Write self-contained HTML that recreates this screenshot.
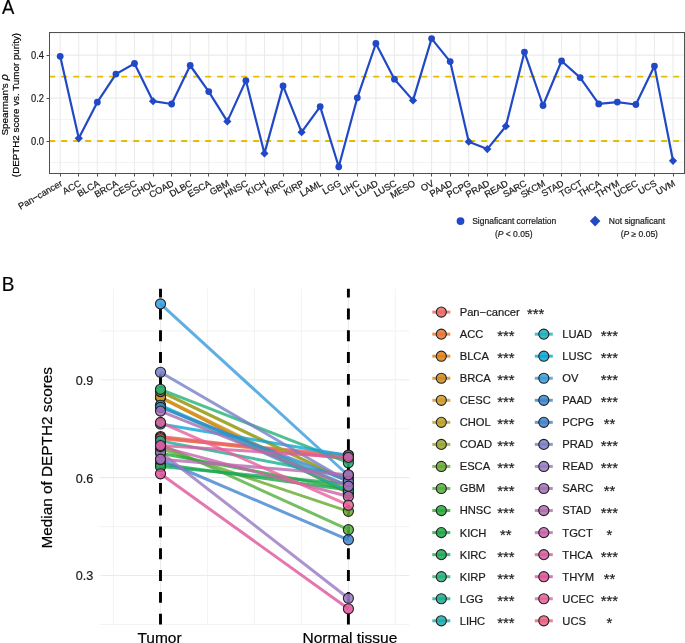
<!DOCTYPE html>
<html><head><meta charset="utf-8"><style>
html,body{margin:0;padding:0;background:#fff;overflow:hidden;}
svg{display:block;font-family:"Liberation Sans", sans-serif;will-change:transform;}
text{stroke:currentColor;stroke-width:0.2px;paint-order:stroke;}
</style></head><body>
<svg width="685" height="643" viewBox="0 0 685 643">
<rect x="0" y="0" width="685" height="643" fill="#fff"/>
<text transform="translate(1.9,13.8) scale(0.94,1)" font-size="19.6" fill="#000" color="#000">A</text>
<line x1="49.5" x2="684.5" y1="33.70" y2="33.70" stroke="#EBEBEB" stroke-width="0.6"/>
<line x1="49.5" x2="684.5" y1="76.62" y2="76.62" stroke="#EBEBEB" stroke-width="0.6"/>
<line x1="49.5" x2="684.5" y1="119.54" y2="119.54" stroke="#EBEBEB" stroke-width="0.6"/>
<line x1="49.5" x2="684.5" y1="162.46" y2="162.46" stroke="#EBEBEB" stroke-width="0.6"/>
<line x1="49.5" x2="684.5" y1="55.16" y2="55.16" stroke="#EBEBEB" stroke-width="1.1"/>
<line x1="49.5" x2="684.5" y1="98.08" y2="98.08" stroke="#EBEBEB" stroke-width="1.1"/>
<line x1="49.5" x2="684.5" y1="141.00" y2="141.00" stroke="#EBEBEB" stroke-width="1.1"/>
<line x1="60.20" x2="60.20" y1="32.5" y2="173.5" stroke="#EBEBEB" stroke-width="1.1"/>
<line x1="78.77" x2="78.77" y1="32.5" y2="173.5" stroke="#EBEBEB" stroke-width="1.1"/>
<line x1="97.34" x2="97.34" y1="32.5" y2="173.5" stroke="#EBEBEB" stroke-width="1.1"/>
<line x1="115.91" x2="115.91" y1="32.5" y2="173.5" stroke="#EBEBEB" stroke-width="1.1"/>
<line x1="134.48" x2="134.48" y1="32.5" y2="173.5" stroke="#EBEBEB" stroke-width="1.1"/>
<line x1="153.05" x2="153.05" y1="32.5" y2="173.5" stroke="#EBEBEB" stroke-width="1.1"/>
<line x1="171.62" x2="171.62" y1="32.5" y2="173.5" stroke="#EBEBEB" stroke-width="1.1"/>
<line x1="190.19" x2="190.19" y1="32.5" y2="173.5" stroke="#EBEBEB" stroke-width="1.1"/>
<line x1="208.76" x2="208.76" y1="32.5" y2="173.5" stroke="#EBEBEB" stroke-width="1.1"/>
<line x1="227.33" x2="227.33" y1="32.5" y2="173.5" stroke="#EBEBEB" stroke-width="1.1"/>
<line x1="245.90" x2="245.90" y1="32.5" y2="173.5" stroke="#EBEBEB" stroke-width="1.1"/>
<line x1="264.47" x2="264.47" y1="32.5" y2="173.5" stroke="#EBEBEB" stroke-width="1.1"/>
<line x1="283.04" x2="283.04" y1="32.5" y2="173.5" stroke="#EBEBEB" stroke-width="1.1"/>
<line x1="301.61" x2="301.61" y1="32.5" y2="173.5" stroke="#EBEBEB" stroke-width="1.1"/>
<line x1="320.18" x2="320.18" y1="32.5" y2="173.5" stroke="#EBEBEB" stroke-width="1.1"/>
<line x1="338.75" x2="338.75" y1="32.5" y2="173.5" stroke="#EBEBEB" stroke-width="1.1"/>
<line x1="357.32" x2="357.32" y1="32.5" y2="173.5" stroke="#EBEBEB" stroke-width="1.1"/>
<line x1="375.89" x2="375.89" y1="32.5" y2="173.5" stroke="#EBEBEB" stroke-width="1.1"/>
<line x1="394.46" x2="394.46" y1="32.5" y2="173.5" stroke="#EBEBEB" stroke-width="1.1"/>
<line x1="413.03" x2="413.03" y1="32.5" y2="173.5" stroke="#EBEBEB" stroke-width="1.1"/>
<line x1="431.60" x2="431.60" y1="32.5" y2="173.5" stroke="#EBEBEB" stroke-width="1.1"/>
<line x1="450.17" x2="450.17" y1="32.5" y2="173.5" stroke="#EBEBEB" stroke-width="1.1"/>
<line x1="468.74" x2="468.74" y1="32.5" y2="173.5" stroke="#EBEBEB" stroke-width="1.1"/>
<line x1="487.31" x2="487.31" y1="32.5" y2="173.5" stroke="#EBEBEB" stroke-width="1.1"/>
<line x1="505.88" x2="505.88" y1="32.5" y2="173.5" stroke="#EBEBEB" stroke-width="1.1"/>
<line x1="524.45" x2="524.45" y1="32.5" y2="173.5" stroke="#EBEBEB" stroke-width="1.1"/>
<line x1="543.02" x2="543.02" y1="32.5" y2="173.5" stroke="#EBEBEB" stroke-width="1.1"/>
<line x1="561.59" x2="561.59" y1="32.5" y2="173.5" stroke="#EBEBEB" stroke-width="1.1"/>
<line x1="580.16" x2="580.16" y1="32.5" y2="173.5" stroke="#EBEBEB" stroke-width="1.1"/>
<line x1="598.73" x2="598.73" y1="32.5" y2="173.5" stroke="#EBEBEB" stroke-width="1.1"/>
<line x1="617.30" x2="617.30" y1="32.5" y2="173.5" stroke="#EBEBEB" stroke-width="1.1"/>
<line x1="635.87" x2="635.87" y1="32.5" y2="173.5" stroke="#EBEBEB" stroke-width="1.1"/>
<line x1="654.44" x2="654.44" y1="32.5" y2="173.5" stroke="#EBEBEB" stroke-width="1.1"/>
<line x1="673.01" x2="673.01" y1="32.5" y2="173.5" stroke="#EBEBEB" stroke-width="1.1"/>
<line x1="49.2" x2="684.5" y1="76.62" y2="76.62" stroke="#E7BC00" stroke-width="1.8" stroke-dasharray="6 6"/>
<line x1="49.2" x2="684.5" y1="141.00" y2="141.00" stroke="#E7BC00" stroke-width="1.8" stroke-dasharray="6 6"/>
<polyline points="60.20,56.30 78.77,138.30 97.34,102.20 115.91,74.10 134.48,63.50 153.05,101.20 171.62,104.00 190.19,65.50 208.76,91.60 227.33,121.40 245.90,80.60 264.47,153.40 283.04,85.90 301.61,132.20 320.18,106.60 338.75,166.80 357.32,97.80 375.89,43.50 394.46,79.20 413.03,100.40 431.60,38.60 450.17,61.60 468.74,141.70 487.31,149.10 505.88,126.20 524.45,52.10 543.02,105.50 561.59,61.00 580.16,77.60 598.73,103.90 617.30,102.10 635.87,104.50 654.44,66.10 673.01,160.80" fill="none" stroke="#2149C6" stroke-width="2.2" stroke-linejoin="round"/>
<circle cx="60.20" cy="56.30" r="3.4" fill="#2149C6"/>
<path d="M78.77 134.20L82.87 138.30L78.77 142.40L74.67 138.30Z" fill="#2149C6"/>
<circle cx="97.34" cy="102.20" r="3.4" fill="#2149C6"/>
<circle cx="115.91" cy="74.10" r="3.4" fill="#2149C6"/>
<circle cx="134.48" cy="63.50" r="3.4" fill="#2149C6"/>
<path d="M153.05 97.10L157.15 101.20L153.05 105.30L148.95 101.20Z" fill="#2149C6"/>
<circle cx="171.62" cy="104.00" r="3.4" fill="#2149C6"/>
<circle cx="190.19" cy="65.50" r="3.4" fill="#2149C6"/>
<circle cx="208.76" cy="91.60" r="3.4" fill="#2149C6"/>
<path d="M227.33 117.30L231.43 121.40L227.33 125.50L223.23 121.40Z" fill="#2149C6"/>
<circle cx="245.90" cy="80.60" r="3.4" fill="#2149C6"/>
<path d="M264.47 149.30L268.57 153.40L264.47 157.50L260.37 153.40Z" fill="#2149C6"/>
<circle cx="283.04" cy="85.90" r="3.4" fill="#2149C6"/>
<path d="M301.61 128.10L305.71 132.20L301.61 136.30L297.51 132.20Z" fill="#2149C6"/>
<circle cx="320.18" cy="106.60" r="3.4" fill="#2149C6"/>
<circle cx="338.75" cy="166.80" r="3.4" fill="#2149C6"/>
<circle cx="357.32" cy="97.80" r="3.4" fill="#2149C6"/>
<circle cx="375.89" cy="43.50" r="3.4" fill="#2149C6"/>
<circle cx="394.46" cy="79.20" r="3.4" fill="#2149C6"/>
<path d="M413.03 96.30L417.13 100.40L413.03 104.50L408.93 100.40Z" fill="#2149C6"/>
<circle cx="431.60" cy="38.60" r="3.4" fill="#2149C6"/>
<circle cx="450.17" cy="61.60" r="3.4" fill="#2149C6"/>
<path d="M468.74 137.60L472.84 141.70L468.74 145.80L464.64 141.70Z" fill="#2149C6"/>
<path d="M487.31 145.00L491.41 149.10L487.31 153.20L483.21 149.10Z" fill="#2149C6"/>
<path d="M505.88 122.10L509.98 126.20L505.88 130.30L501.78 126.20Z" fill="#2149C6"/>
<circle cx="524.45" cy="52.10" r="3.4" fill="#2149C6"/>
<circle cx="543.02" cy="105.50" r="3.4" fill="#2149C6"/>
<circle cx="561.59" cy="61.00" r="3.4" fill="#2149C6"/>
<circle cx="580.16" cy="77.60" r="3.4" fill="#2149C6"/>
<circle cx="598.73" cy="103.90" r="3.4" fill="#2149C6"/>
<circle cx="617.30" cy="102.10" r="3.4" fill="#2149C6"/>
<circle cx="635.87" cy="104.50" r="3.4" fill="#2149C6"/>
<circle cx="654.44" cy="66.10" r="3.4" fill="#2149C6"/>
<path d="M673.01 156.70L677.11 160.80L673.01 164.90L668.91 160.80Z" fill="#2149C6"/>
<rect x="49.5" y="32.5" width="635.0" height="141.0" fill="none" stroke="#505050" stroke-width="1.0"/>
<line x1="46.5" x2="49.5" y1="55.50" y2="55.50" stroke="#505050" stroke-width="1.0"/>
<text transform="translate(44.0,59.11) scale(0.9,1)" font-size="10.4" text-anchor="end" fill="#1a1a1a" color="#1a1a1a">0.4</text>
<line x1="46.5" x2="49.5" y1="98.50" y2="98.50" stroke="#505050" stroke-width="1.0"/>
<text transform="translate(44.0,102.03) scale(0.9,1)" font-size="10.4" text-anchor="end" fill="#1a1a1a" color="#1a1a1a">0.2</text>
<line x1="46.5" x2="49.5" y1="141.50" y2="141.50" stroke="#505050" stroke-width="1.0"/>
<text transform="translate(44.0,144.95) scale(0.9,1)" font-size="10.4" text-anchor="end" fill="#1a1a1a" color="#1a1a1a">0.0</text>
<line x1="60.50" x2="60.50" y1="173.5" y2="176.5" stroke="#505050" stroke-width="1.0"/>
<text transform="translate(63.10,185.10) rotate(-30)" font-size="9.2" text-anchor="end" fill="#1a1a1a" color="#1a1a1a">Pan−cancer</text>
<line x1="78.50" x2="78.50" y1="173.5" y2="176.5" stroke="#505050" stroke-width="1.0"/>
<text transform="translate(81.67,185.10) rotate(-30)" font-size="9.2" text-anchor="end" fill="#1a1a1a" color="#1a1a1a">ACC</text>
<line x1="97.50" x2="97.50" y1="173.5" y2="176.5" stroke="#505050" stroke-width="1.0"/>
<text transform="translate(100.24,185.10) rotate(-30)" font-size="9.2" text-anchor="end" fill="#1a1a1a" color="#1a1a1a">BLCA</text>
<line x1="115.50" x2="115.50" y1="173.5" y2="176.5" stroke="#505050" stroke-width="1.0"/>
<text transform="translate(118.81,185.10) rotate(-30)" font-size="9.2" text-anchor="end" fill="#1a1a1a" color="#1a1a1a">BRCA</text>
<line x1="134.50" x2="134.50" y1="173.5" y2="176.5" stroke="#505050" stroke-width="1.0"/>
<text transform="translate(137.38,185.10) rotate(-30)" font-size="9.2" text-anchor="end" fill="#1a1a1a" color="#1a1a1a">CESC</text>
<line x1="153.50" x2="153.50" y1="173.5" y2="176.5" stroke="#505050" stroke-width="1.0"/>
<text transform="translate(155.95,185.10) rotate(-30)" font-size="9.2" text-anchor="end" fill="#1a1a1a" color="#1a1a1a">CHOL</text>
<line x1="171.50" x2="171.50" y1="173.5" y2="176.5" stroke="#505050" stroke-width="1.0"/>
<text transform="translate(174.52,185.10) rotate(-30)" font-size="9.2" text-anchor="end" fill="#1a1a1a" color="#1a1a1a">COAD</text>
<line x1="190.50" x2="190.50" y1="173.5" y2="176.5" stroke="#505050" stroke-width="1.0"/>
<text transform="translate(193.09,185.10) rotate(-30)" font-size="9.2" text-anchor="end" fill="#1a1a1a" color="#1a1a1a">DLBC</text>
<line x1="208.50" x2="208.50" y1="173.5" y2="176.5" stroke="#505050" stroke-width="1.0"/>
<text transform="translate(211.66,185.10) rotate(-30)" font-size="9.2" text-anchor="end" fill="#1a1a1a" color="#1a1a1a">ESCA</text>
<line x1="227.50" x2="227.50" y1="173.5" y2="176.5" stroke="#505050" stroke-width="1.0"/>
<text transform="translate(230.23,185.10) rotate(-30)" font-size="9.2" text-anchor="end" fill="#1a1a1a" color="#1a1a1a">GBM</text>
<line x1="245.50" x2="245.50" y1="173.5" y2="176.5" stroke="#505050" stroke-width="1.0"/>
<text transform="translate(248.80,185.10) rotate(-30)" font-size="9.2" text-anchor="end" fill="#1a1a1a" color="#1a1a1a">HNSC</text>
<line x1="264.50" x2="264.50" y1="173.5" y2="176.5" stroke="#505050" stroke-width="1.0"/>
<text transform="translate(267.37,185.10) rotate(-30)" font-size="9.2" text-anchor="end" fill="#1a1a1a" color="#1a1a1a">KICH</text>
<line x1="283.50" x2="283.50" y1="173.5" y2="176.5" stroke="#505050" stroke-width="1.0"/>
<text transform="translate(285.94,185.10) rotate(-30)" font-size="9.2" text-anchor="end" fill="#1a1a1a" color="#1a1a1a">KIRC</text>
<line x1="301.50" x2="301.50" y1="173.5" y2="176.5" stroke="#505050" stroke-width="1.0"/>
<text transform="translate(304.51,185.10) rotate(-30)" font-size="9.2" text-anchor="end" fill="#1a1a1a" color="#1a1a1a">KIRP</text>
<line x1="320.50" x2="320.50" y1="173.5" y2="176.5" stroke="#505050" stroke-width="1.0"/>
<text transform="translate(323.08,185.10) rotate(-30)" font-size="9.2" text-anchor="end" fill="#1a1a1a" color="#1a1a1a">LAML</text>
<line x1="338.50" x2="338.50" y1="173.5" y2="176.5" stroke="#505050" stroke-width="1.0"/>
<text transform="translate(341.65,185.10) rotate(-30)" font-size="9.2" text-anchor="end" fill="#1a1a1a" color="#1a1a1a">LGG</text>
<line x1="357.50" x2="357.50" y1="173.5" y2="176.5" stroke="#505050" stroke-width="1.0"/>
<text transform="translate(360.22,185.10) rotate(-30)" font-size="9.2" text-anchor="end" fill="#1a1a1a" color="#1a1a1a">LIHC</text>
<line x1="375.50" x2="375.50" y1="173.5" y2="176.5" stroke="#505050" stroke-width="1.0"/>
<text transform="translate(378.79,185.10) rotate(-30)" font-size="9.2" text-anchor="end" fill="#1a1a1a" color="#1a1a1a">LUAD</text>
<line x1="394.50" x2="394.50" y1="173.5" y2="176.5" stroke="#505050" stroke-width="1.0"/>
<text transform="translate(397.36,185.10) rotate(-30)" font-size="9.2" text-anchor="end" fill="#1a1a1a" color="#1a1a1a">LUSC</text>
<line x1="413.50" x2="413.50" y1="173.5" y2="176.5" stroke="#505050" stroke-width="1.0"/>
<text transform="translate(415.93,185.10) rotate(-30)" font-size="9.2" text-anchor="end" fill="#1a1a1a" color="#1a1a1a">MESO</text>
<line x1="431.50" x2="431.50" y1="173.5" y2="176.5" stroke="#505050" stroke-width="1.0"/>
<text transform="translate(434.50,185.10) rotate(-30)" font-size="9.2" text-anchor="end" fill="#1a1a1a" color="#1a1a1a">OV</text>
<line x1="450.50" x2="450.50" y1="173.5" y2="176.5" stroke="#505050" stroke-width="1.0"/>
<text transform="translate(453.07,185.10) rotate(-30)" font-size="9.2" text-anchor="end" fill="#1a1a1a" color="#1a1a1a">PAAD</text>
<line x1="468.50" x2="468.50" y1="173.5" y2="176.5" stroke="#505050" stroke-width="1.0"/>
<text transform="translate(471.64,185.10) rotate(-30)" font-size="9.2" text-anchor="end" fill="#1a1a1a" color="#1a1a1a">PCPG</text>
<line x1="487.50" x2="487.50" y1="173.5" y2="176.5" stroke="#505050" stroke-width="1.0"/>
<text transform="translate(490.21,185.10) rotate(-30)" font-size="9.2" text-anchor="end" fill="#1a1a1a" color="#1a1a1a">PRAD</text>
<line x1="505.50" x2="505.50" y1="173.5" y2="176.5" stroke="#505050" stroke-width="1.0"/>
<text transform="translate(508.78,185.10) rotate(-30)" font-size="9.2" text-anchor="end" fill="#1a1a1a" color="#1a1a1a">READ</text>
<line x1="524.50" x2="524.50" y1="173.5" y2="176.5" stroke="#505050" stroke-width="1.0"/>
<text transform="translate(527.35,185.10) rotate(-30)" font-size="9.2" text-anchor="end" fill="#1a1a1a" color="#1a1a1a">SARC</text>
<line x1="543.50" x2="543.50" y1="173.5" y2="176.5" stroke="#505050" stroke-width="1.0"/>
<text transform="translate(545.92,185.10) rotate(-30)" font-size="9.2" text-anchor="end" fill="#1a1a1a" color="#1a1a1a">SKCM</text>
<line x1="561.50" x2="561.50" y1="173.5" y2="176.5" stroke="#505050" stroke-width="1.0"/>
<text transform="translate(564.49,185.10) rotate(-30)" font-size="9.2" text-anchor="end" fill="#1a1a1a" color="#1a1a1a">STAD</text>
<line x1="580.50" x2="580.50" y1="173.5" y2="176.5" stroke="#505050" stroke-width="1.0"/>
<text transform="translate(583.06,185.10) rotate(-30)" font-size="9.2" text-anchor="end" fill="#1a1a1a" color="#1a1a1a">TGCT</text>
<line x1="598.50" x2="598.50" y1="173.5" y2="176.5" stroke="#505050" stroke-width="1.0"/>
<text transform="translate(601.63,185.10) rotate(-30)" font-size="9.2" text-anchor="end" fill="#1a1a1a" color="#1a1a1a">THCA</text>
<line x1="617.50" x2="617.50" y1="173.5" y2="176.5" stroke="#505050" stroke-width="1.0"/>
<text transform="translate(620.20,185.10) rotate(-30)" font-size="9.2" text-anchor="end" fill="#1a1a1a" color="#1a1a1a">THYM</text>
<line x1="635.50" x2="635.50" y1="173.5" y2="176.5" stroke="#505050" stroke-width="1.0"/>
<text transform="translate(638.77,185.10) rotate(-30)" font-size="9.2" text-anchor="end" fill="#1a1a1a" color="#1a1a1a">UCEC</text>
<line x1="654.50" x2="654.50" y1="173.5" y2="176.5" stroke="#505050" stroke-width="1.0"/>
<text transform="translate(657.34,185.10) rotate(-30)" font-size="9.2" text-anchor="end" fill="#1a1a1a" color="#1a1a1a">UCS</text>
<line x1="673.50" x2="673.50" y1="173.5" y2="176.5" stroke="#505050" stroke-width="1.0"/>
<text transform="translate(675.91,185.10) rotate(-30)" font-size="9.2" text-anchor="end" fill="#1a1a1a" color="#1a1a1a">UVM</text>
<text transform="translate(7.7,104.9) rotate(-90)" font-size="9.9" text-anchor="middle" fill="#000" color="#000">Spearman's <tspan font-style="italic" font-size="11">ρ</tspan></text>
<text transform="translate(19.1,105.0) rotate(-90)" font-size="9.8" text-anchor="middle" fill="#000" color="#000">(DEPTH2 score vs. Tumor purity)</text>
<circle cx="460.5" cy="221.1" r="3.9" fill="#2149C6"/>
<text x="472.2" y="224.2" font-size="8.5" fill="#1a1a1a" color="#1a1a1a">Signaficant correlation</text>
<text x="513.7" y="237.3" font-size="8.5" text-anchor="middle" fill="#1a1a1a" color="#1a1a1a">(<tspan font-style="italic">P</tspan> &lt; 0.05)</text>
<path d="M595.1 215.79999999999998L600.4 221.1L595.1 226.4L589.8000000000001 221.1Z" fill="#2149C6"/>
<text x="608.8" y="224.2" font-size="8.5" fill="#1a1a1a" color="#1a1a1a">Not signaficant</text>
<text x="639.3" y="237.3" font-size="8.5" text-anchor="middle" fill="#1a1a1a" color="#1a1a1a">(<tspan font-style="italic">P</tspan> ≥ 0.05)</text>
<text transform="translate(1.75,290.8) scale(0.97,1)" font-size="19.6" fill="#000" color="#000">B</text>
<line x1="99.5" x2="409.4" y1="330.87" y2="330.87" stroke="#EBEBEB" stroke-width="0.6"/>
<line x1="99.5" x2="409.4" y1="379.80" y2="379.80" stroke="#EBEBEB" stroke-width="1.1"/>
<line x1="99.5" x2="409.4" y1="428.73" y2="428.73" stroke="#EBEBEB" stroke-width="0.6"/>
<line x1="99.5" x2="409.4" y1="477.66" y2="477.66" stroke="#EBEBEB" stroke-width="1.1"/>
<line x1="99.5" x2="409.4" y1="526.59" y2="526.59" stroke="#EBEBEB" stroke-width="0.6"/>
<line x1="99.5" x2="409.4" y1="575.52" y2="575.52" stroke="#EBEBEB" stroke-width="1.1"/>
<line x1="99.5" x2="409.4" y1="624.45" y2="624.45" stroke="#EBEBEB" stroke-width="0.6"/>
<line x1="113.53" x2="113.53" y1="288.7" y2="624.6" stroke="#EBEBEB" stroke-width="0.6"/>
<line x1="160.50" x2="160.50" y1="288.7" y2="624.6" stroke="#EBEBEB" stroke-width="1.1"/>
<line x1="207.47" x2="207.47" y1="288.7" y2="624.6" stroke="#EBEBEB" stroke-width="0.6"/>
<line x1="254.45" x2="254.45" y1="288.7" y2="624.6" stroke="#EBEBEB" stroke-width="0.6"/>
<line x1="301.43" x2="301.43" y1="288.7" y2="624.6" stroke="#EBEBEB" stroke-width="0.6"/>
<line x1="348.40" x2="348.40" y1="288.7" y2="624.6" stroke="#EBEBEB" stroke-width="1.1"/>
<line x1="395.38" x2="395.38" y1="288.7" y2="624.6" stroke="#EBEBEB" stroke-width="0.6"/>
<line x1="160.50" x2="160.50" y1="624.6" y2="288.7" stroke="#000" stroke-width="2.9" stroke-dasharray="10.9 10.9"/>
<line x1="348.40" x2="348.40" y1="624.6" y2="288.7" stroke="#000" stroke-width="2.9" stroke-dasharray="10.9 10.9"/>
<line x1="160.50" y1="436.5" x2="348.40" y2="457.5" stroke="#EB607C" stroke-opacity="0.8" stroke-width="3.0"/>
<line x1="160.50" y1="437.5" x2="348.40" y2="459.0" stroke="#E97331" stroke-opacity="0.8" stroke-width="3.0"/>
<line x1="160.50" y1="438.8" x2="348.40" y2="455.0" stroke="#EB6763" stroke-opacity="0.8" stroke-width="3.0"/>
<line x1="160.50" y1="397.4" x2="348.40" y2="493.2" stroke="#DF7F15" stroke-opacity="0.8" stroke-width="3.0"/>
<line x1="160.50" y1="397.3" x2="348.40" y2="493.0" stroke="#CF881E" stroke-opacity="0.8" stroke-width="3.0"/>
<line x1="160.50" y1="397.0" x2="348.40" y2="490.0" stroke="#D19924" stroke-opacity="0.8" stroke-width="3.0"/>
<line x1="160.50" y1="391.6" x2="348.40" y2="481.6" stroke="#BBA024" stroke-opacity="0.8" stroke-width="3.0"/>
<line x1="160.50" y1="391.3" x2="348.40" y2="481.0" stroke="#99A42A" stroke-opacity="0.8" stroke-width="3.0"/>
<line x1="160.50" y1="448.5" x2="348.40" y2="511.3" stroke="#67A92F" stroke-opacity="0.8" stroke-width="3.0"/>
<line x1="160.50" y1="444.3" x2="348.40" y2="529.7" stroke="#52AE3B" stroke-opacity="0.8" stroke-width="3.0"/>
<line x1="160.50" y1="453.2" x2="348.40" y2="489.0" stroke="#24AB37" stroke-opacity="0.8" stroke-width="3.0"/>
<line x1="160.50" y1="464.0" x2="348.40" y2="490.0" stroke="#1BA844" stroke-opacity="0.8" stroke-width="3.0"/>
<line x1="160.50" y1="466.5" x2="348.40" y2="484.0" stroke="#1EA95A" stroke-opacity="0.8" stroke-width="3.0"/>
<line x1="160.50" y1="389.3" x2="348.40" y2="462.7" stroke="#24B078" stroke-opacity="0.8" stroke-width="3.0"/>
<line x1="160.50" y1="440.9" x2="348.40" y2="476.7" stroke="#1AAE8F" stroke-opacity="0.8" stroke-width="3.0"/>
<line x1="160.50" y1="406.0" x2="348.40" y2="491.0" stroke="#1BABAB" stroke-opacity="0.8" stroke-width="3.0"/>
<line x1="160.50" y1="405.3" x2="348.40" y2="486.0" stroke="#1BB0BE" stroke-opacity="0.8" stroke-width="3.0"/>
<line x1="160.50" y1="424.0" x2="348.40" y2="455.5" stroke="#0BA7D6" stroke-opacity="0.8" stroke-width="3.0"/>
<line x1="160.50" y1="303.9" x2="348.40" y2="475.5" stroke="#379BDB" stroke-opacity="0.8" stroke-width="3.0"/>
<line x1="160.50" y1="407.4" x2="348.40" y2="481.0" stroke="#3787CE" stroke-opacity="0.8" stroke-width="3.0"/>
<line x1="160.50" y1="459.5" x2="348.40" y2="539.8" stroke="#4083CE" stroke-opacity="0.8" stroke-width="3.0"/>
<line x1="160.50" y1="372.3" x2="348.40" y2="481.5" stroke="#757FC8" stroke-opacity="0.8" stroke-width="3.0"/>
<line x1="160.50" y1="452.2" x2="348.40" y2="598.2" stroke="#9978C2" stroke-opacity="0.8" stroke-width="3.0"/>
<line x1="160.50" y1="411.1" x2="348.40" y2="486.2" stroke="#A46EB5" stroke-opacity="0.8" stroke-width="3.0"/>
<line x1="160.50" y1="459.2" x2="348.40" y2="474.8" stroke="#B56AB3" stroke-opacity="0.8" stroke-width="3.0"/>
<line x1="160.50" y1="446.6" x2="348.40" y2="496.5" stroke="#C863A8" stroke-opacity="0.8" stroke-width="3.0"/>
<line x1="160.50" y1="445.5" x2="348.40" y2="457.4" stroke="#D85BA2" stroke-opacity="0.8" stroke-width="3.0"/>
<line x1="160.50" y1="473.8" x2="348.40" y2="608.8" stroke="#DF529B" stroke-opacity="0.8" stroke-width="3.0"/>
<line x1="160.50" y1="422.4" x2="348.40" y2="505.2" stroke="#E96099" stroke-opacity="0.8" stroke-width="3.0"/>
<circle cx="160.50" cy="436.5" r="5.05" fill="#EB607C" fill-opacity="0.85" stroke="#222" stroke-width="1.1"/>
<circle cx="348.40" cy="457.5" r="5.05" fill="#EB607C" fill-opacity="0.85" stroke="#222" stroke-width="1.1"/>
<circle cx="160.50" cy="437.5" r="5.05" fill="#E97331" fill-opacity="0.85" stroke="#222" stroke-width="1.1"/>
<circle cx="348.40" cy="459.0" r="5.05" fill="#E97331" fill-opacity="0.85" stroke="#222" stroke-width="1.1"/>
<circle cx="160.50" cy="438.8" r="5.05" fill="#EB6763" fill-opacity="0.85" stroke="#222" stroke-width="1.1"/>
<circle cx="348.40" cy="455.0" r="5.05" fill="#EB6763" fill-opacity="0.85" stroke="#222" stroke-width="1.1"/>
<circle cx="160.50" cy="397.4" r="5.05" fill="#DF7F15" fill-opacity="0.85" stroke="#222" stroke-width="1.1"/>
<circle cx="348.40" cy="493.2" r="5.05" fill="#DF7F15" fill-opacity="0.85" stroke="#222" stroke-width="1.1"/>
<circle cx="160.50" cy="397.3" r="5.05" fill="#CF881E" fill-opacity="0.85" stroke="#222" stroke-width="1.1"/>
<circle cx="348.40" cy="493.0" r="5.05" fill="#CF881E" fill-opacity="0.85" stroke="#222" stroke-width="1.1"/>
<circle cx="160.50" cy="397.0" r="5.05" fill="#D19924" fill-opacity="0.85" stroke="#222" stroke-width="1.1"/>
<circle cx="348.40" cy="490.0" r="5.05" fill="#D19924" fill-opacity="0.85" stroke="#222" stroke-width="1.1"/>
<circle cx="160.50" cy="391.6" r="5.05" fill="#BBA024" fill-opacity="0.85" stroke="#222" stroke-width="1.1"/>
<circle cx="348.40" cy="481.6" r="5.05" fill="#BBA024" fill-opacity="0.85" stroke="#222" stroke-width="1.1"/>
<circle cx="160.50" cy="391.3" r="5.05" fill="#99A42A" fill-opacity="0.85" stroke="#222" stroke-width="1.1"/>
<circle cx="348.40" cy="481.0" r="5.05" fill="#99A42A" fill-opacity="0.85" stroke="#222" stroke-width="1.1"/>
<circle cx="160.50" cy="448.5" r="5.05" fill="#67A92F" fill-opacity="0.85" stroke="#222" stroke-width="1.1"/>
<circle cx="348.40" cy="511.3" r="5.05" fill="#67A92F" fill-opacity="0.85" stroke="#222" stroke-width="1.1"/>
<circle cx="160.50" cy="444.3" r="5.05" fill="#52AE3B" fill-opacity="0.85" stroke="#222" stroke-width="1.1"/>
<circle cx="348.40" cy="529.7" r="5.05" fill="#52AE3B" fill-opacity="0.85" stroke="#222" stroke-width="1.1"/>
<circle cx="160.50" cy="453.2" r="5.05" fill="#24AB37" fill-opacity="0.85" stroke="#222" stroke-width="1.1"/>
<circle cx="348.40" cy="489.0" r="5.05" fill="#24AB37" fill-opacity="0.85" stroke="#222" stroke-width="1.1"/>
<circle cx="160.50" cy="464.0" r="5.05" fill="#1BA844" fill-opacity="0.85" stroke="#222" stroke-width="1.1"/>
<circle cx="348.40" cy="490.0" r="5.05" fill="#1BA844" fill-opacity="0.85" stroke="#222" stroke-width="1.1"/>
<circle cx="160.50" cy="466.5" r="5.05" fill="#1EA95A" fill-opacity="0.85" stroke="#222" stroke-width="1.1"/>
<circle cx="348.40" cy="484.0" r="5.05" fill="#1EA95A" fill-opacity="0.85" stroke="#222" stroke-width="1.1"/>
<circle cx="160.50" cy="389.3" r="5.05" fill="#24B078" fill-opacity="0.85" stroke="#222" stroke-width="1.1"/>
<circle cx="348.40" cy="462.7" r="5.05" fill="#24B078" fill-opacity="0.85" stroke="#222" stroke-width="1.1"/>
<circle cx="160.50" cy="440.9" r="5.05" fill="#1AAE8F" fill-opacity="0.85" stroke="#222" stroke-width="1.1"/>
<circle cx="348.40" cy="476.7" r="5.05" fill="#1AAE8F" fill-opacity="0.85" stroke="#222" stroke-width="1.1"/>
<circle cx="160.50" cy="406.0" r="5.05" fill="#1BABAB" fill-opacity="0.85" stroke="#222" stroke-width="1.1"/>
<circle cx="348.40" cy="491.0" r="5.05" fill="#1BABAB" fill-opacity="0.85" stroke="#222" stroke-width="1.1"/>
<circle cx="160.50" cy="405.3" r="5.05" fill="#1BB0BE" fill-opacity="0.85" stroke="#222" stroke-width="1.1"/>
<circle cx="348.40" cy="486.0" r="5.05" fill="#1BB0BE" fill-opacity="0.85" stroke="#222" stroke-width="1.1"/>
<circle cx="160.50" cy="424.0" r="5.05" fill="#0BA7D6" fill-opacity="0.85" stroke="#222" stroke-width="1.1"/>
<circle cx="348.40" cy="455.5" r="5.05" fill="#0BA7D6" fill-opacity="0.85" stroke="#222" stroke-width="1.1"/>
<circle cx="160.50" cy="303.9" r="5.05" fill="#379BDB" fill-opacity="0.85" stroke="#222" stroke-width="1.1"/>
<circle cx="348.40" cy="475.5" r="5.05" fill="#379BDB" fill-opacity="0.85" stroke="#222" stroke-width="1.1"/>
<circle cx="160.50" cy="407.4" r="5.05" fill="#3787CE" fill-opacity="0.85" stroke="#222" stroke-width="1.1"/>
<circle cx="348.40" cy="481.0" r="5.05" fill="#3787CE" fill-opacity="0.85" stroke="#222" stroke-width="1.1"/>
<circle cx="160.50" cy="459.5" r="5.05" fill="#4083CE" fill-opacity="0.85" stroke="#222" stroke-width="1.1"/>
<circle cx="348.40" cy="539.8" r="5.05" fill="#4083CE" fill-opacity="0.85" stroke="#222" stroke-width="1.1"/>
<circle cx="160.50" cy="372.3" r="5.05" fill="#757FC8" fill-opacity="0.85" stroke="#222" stroke-width="1.1"/>
<circle cx="348.40" cy="481.5" r="5.05" fill="#757FC8" fill-opacity="0.85" stroke="#222" stroke-width="1.1"/>
<circle cx="160.50" cy="452.2" r="5.05" fill="#9978C2" fill-opacity="0.85" stroke="#222" stroke-width="1.1"/>
<circle cx="348.40" cy="598.2" r="5.05" fill="#9978C2" fill-opacity="0.85" stroke="#222" stroke-width="1.1"/>
<circle cx="160.50" cy="411.1" r="5.05" fill="#A46EB5" fill-opacity="0.85" stroke="#222" stroke-width="1.1"/>
<circle cx="348.40" cy="486.2" r="5.05" fill="#A46EB5" fill-opacity="0.85" stroke="#222" stroke-width="1.1"/>
<circle cx="160.50" cy="459.2" r="5.05" fill="#B56AB3" fill-opacity="0.85" stroke="#222" stroke-width="1.1"/>
<circle cx="348.40" cy="474.8" r="5.05" fill="#B56AB3" fill-opacity="0.85" stroke="#222" stroke-width="1.1"/>
<circle cx="160.50" cy="446.6" r="5.05" fill="#C863A8" fill-opacity="0.85" stroke="#222" stroke-width="1.1"/>
<circle cx="348.40" cy="496.5" r="5.05" fill="#C863A8" fill-opacity="0.85" stroke="#222" stroke-width="1.1"/>
<circle cx="160.50" cy="445.5" r="5.05" fill="#D85BA2" fill-opacity="0.85" stroke="#222" stroke-width="1.1"/>
<circle cx="348.40" cy="457.4" r="5.05" fill="#D85BA2" fill-opacity="0.85" stroke="#222" stroke-width="1.1"/>
<circle cx="160.50" cy="473.8" r="5.05" fill="#DF529B" fill-opacity="0.85" stroke="#222" stroke-width="1.1"/>
<circle cx="348.40" cy="608.8" r="5.05" fill="#DF529B" fill-opacity="0.85" stroke="#222" stroke-width="1.1"/>
<circle cx="160.50" cy="422.4" r="5.05" fill="#E96099" fill-opacity="0.85" stroke="#222" stroke-width="1.1"/>
<circle cx="348.40" cy="505.2" r="5.05" fill="#E96099" fill-opacity="0.85" stroke="#222" stroke-width="1.1"/>
<text transform="translate(93.4,384.70) scale(0.95,1)" font-size="13.3" text-anchor="end" fill="#1a1a1a" color="#1a1a1a">0.9</text>
<text transform="translate(93.4,482.56) scale(0.95,1)" font-size="13.3" text-anchor="end" fill="#1a1a1a" color="#1a1a1a">0.6</text>
<text transform="translate(93.4,580.42) scale(0.95,1)" font-size="13.3" text-anchor="end" fill="#1a1a1a" color="#1a1a1a">0.3</text>
<text transform="translate(51.9,457.8) rotate(-90)" font-size="15.35" text-anchor="middle" fill="#000" color="#000">Median of DEPTH2 scores</text>
<text x="159.50" y="642.8" font-size="15.5" text-anchor="middle" fill="#000" color="#000">Tumor</text>
<text x="349.90" y="642.8" font-size="15.5" text-anchor="middle" fill="#000" color="#000">Normal tissue</text>
<line x1="432.30" x2="450.30" y1="312.10" y2="312.10" stroke="#EB6763" stroke-opacity="0.8" stroke-width="3.0"/>
<circle cx="441.30" cy="312.10" r="5.05" fill="#EB6763" fill-opacity="0.85" stroke="#222" stroke-width="1.1"/>
<text x="459.7" y="316.00" font-size="11.2" fill="#1a1a1a" color="#1a1a1a">Pan−cancer</text>
<text x="535.6" y="319.10" font-size="14.8" text-anchor="middle" fill="#1a1a1a" color="#1a1a1a">***</text>
<line x1="432.30" x2="450.30" y1="334.15" y2="334.15" stroke="#E97331" stroke-opacity="0.8" stroke-width="3.0"/>
<circle cx="441.30" cy="334.15" r="5.05" fill="#E97331" fill-opacity="0.85" stroke="#222" stroke-width="1.1"/>
<line x1="534.80" x2="552.80" y1="334.15" y2="334.15" stroke="#1BB0BE" stroke-opacity="0.8" stroke-width="3.0"/>
<circle cx="543.80" cy="334.15" r="5.05" fill="#1BB0BE" fill-opacity="0.85" stroke="#222" stroke-width="1.1"/>
<text x="459.7" y="338.05" font-size="11.2" fill="#1a1a1a" color="#1a1a1a">ACC</text>
<text x="505.8" y="341.15" font-size="14.8" text-anchor="middle" fill="#1a1a1a" color="#1a1a1a">***</text>
<text x="562.3" y="338.05" font-size="11.2" fill="#1a1a1a" color="#1a1a1a">LUAD</text>
<text x="609.4" y="341.15" font-size="14.8" text-anchor="middle" fill="#1a1a1a" color="#1a1a1a">***</text>
<line x1="432.30" x2="450.30" y1="356.20" y2="356.20" stroke="#DF7F15" stroke-opacity="0.8" stroke-width="3.0"/>
<circle cx="441.30" cy="356.20" r="5.05" fill="#DF7F15" fill-opacity="0.85" stroke="#222" stroke-width="1.1"/>
<line x1="534.80" x2="552.80" y1="356.20" y2="356.20" stroke="#0BA7D6" stroke-opacity="0.8" stroke-width="3.0"/>
<circle cx="543.80" cy="356.20" r="5.05" fill="#0BA7D6" fill-opacity="0.85" stroke="#222" stroke-width="1.1"/>
<text x="459.7" y="360.10" font-size="11.2" fill="#1a1a1a" color="#1a1a1a">BLCA</text>
<text x="505.8" y="363.20" font-size="14.8" text-anchor="middle" fill="#1a1a1a" color="#1a1a1a">***</text>
<text x="562.3" y="360.10" font-size="11.2" fill="#1a1a1a" color="#1a1a1a">LUSC</text>
<text x="609.4" y="363.20" font-size="14.8" text-anchor="middle" fill="#1a1a1a" color="#1a1a1a">***</text>
<line x1="432.30" x2="450.30" y1="378.25" y2="378.25" stroke="#CF881E" stroke-opacity="0.8" stroke-width="3.0"/>
<circle cx="441.30" cy="378.25" r="5.05" fill="#CF881E" fill-opacity="0.85" stroke="#222" stroke-width="1.1"/>
<line x1="534.80" x2="552.80" y1="378.25" y2="378.25" stroke="#379BDB" stroke-opacity="0.8" stroke-width="3.0"/>
<circle cx="543.80" cy="378.25" r="5.05" fill="#379BDB" fill-opacity="0.85" stroke="#222" stroke-width="1.1"/>
<text x="459.7" y="382.15" font-size="11.2" fill="#1a1a1a" color="#1a1a1a">BRCA</text>
<text x="505.8" y="385.25" font-size="14.8" text-anchor="middle" fill="#1a1a1a" color="#1a1a1a">***</text>
<text x="562.3" y="382.15" font-size="11.2" fill="#1a1a1a" color="#1a1a1a">OV</text>
<text x="609.4" y="385.25" font-size="14.8" text-anchor="middle" fill="#1a1a1a" color="#1a1a1a">***</text>
<line x1="432.30" x2="450.30" y1="400.30" y2="400.30" stroke="#D19924" stroke-opacity="0.8" stroke-width="3.0"/>
<circle cx="441.30" cy="400.30" r="5.05" fill="#D19924" fill-opacity="0.85" stroke="#222" stroke-width="1.1"/>
<line x1="534.80" x2="552.80" y1="400.30" y2="400.30" stroke="#3787CE" stroke-opacity="0.8" stroke-width="3.0"/>
<circle cx="543.80" cy="400.30" r="5.05" fill="#3787CE" fill-opacity="0.85" stroke="#222" stroke-width="1.1"/>
<text x="459.7" y="404.20" font-size="11.2" fill="#1a1a1a" color="#1a1a1a">CESC</text>
<text x="505.8" y="407.30" font-size="14.8" text-anchor="middle" fill="#1a1a1a" color="#1a1a1a">***</text>
<text x="562.3" y="404.20" font-size="11.2" fill="#1a1a1a" color="#1a1a1a">PAAD</text>
<text x="609.4" y="407.30" font-size="14.8" text-anchor="middle" fill="#1a1a1a" color="#1a1a1a">***</text>
<line x1="432.30" x2="450.30" y1="422.35" y2="422.35" stroke="#BBA024" stroke-opacity="0.8" stroke-width="3.0"/>
<circle cx="441.30" cy="422.35" r="5.05" fill="#BBA024" fill-opacity="0.85" stroke="#222" stroke-width="1.1"/>
<line x1="534.80" x2="552.80" y1="422.35" y2="422.35" stroke="#4083CE" stroke-opacity="0.8" stroke-width="3.0"/>
<circle cx="543.80" cy="422.35" r="5.05" fill="#4083CE" fill-opacity="0.85" stroke="#222" stroke-width="1.1"/>
<text x="459.7" y="426.25" font-size="11.2" fill="#1a1a1a" color="#1a1a1a">CHOL</text>
<text x="505.8" y="429.35" font-size="14.8" text-anchor="middle" fill="#1a1a1a" color="#1a1a1a">***</text>
<text x="562.3" y="426.25" font-size="11.2" fill="#1a1a1a" color="#1a1a1a">PCPG</text>
<text x="609.4" y="429.35" font-size="14.8" text-anchor="middle" fill="#1a1a1a" color="#1a1a1a">**</text>
<line x1="432.30" x2="450.30" y1="444.40" y2="444.40" stroke="#99A42A" stroke-opacity="0.8" stroke-width="3.0"/>
<circle cx="441.30" cy="444.40" r="5.05" fill="#99A42A" fill-opacity="0.85" stroke="#222" stroke-width="1.1"/>
<line x1="534.80" x2="552.80" y1="444.40" y2="444.40" stroke="#757FC8" stroke-opacity="0.8" stroke-width="3.0"/>
<circle cx="543.80" cy="444.40" r="5.05" fill="#757FC8" fill-opacity="0.85" stroke="#222" stroke-width="1.1"/>
<text x="459.7" y="448.30" font-size="11.2" fill="#1a1a1a" color="#1a1a1a">COAD</text>
<text x="505.8" y="451.40" font-size="14.8" text-anchor="middle" fill="#1a1a1a" color="#1a1a1a">***</text>
<text x="562.3" y="448.30" font-size="11.2" fill="#1a1a1a" color="#1a1a1a">PRAD</text>
<text x="609.4" y="451.40" font-size="14.8" text-anchor="middle" fill="#1a1a1a" color="#1a1a1a">***</text>
<line x1="432.30" x2="450.30" y1="466.45" y2="466.45" stroke="#67A92F" stroke-opacity="0.8" stroke-width="3.0"/>
<circle cx="441.30" cy="466.45" r="5.05" fill="#67A92F" fill-opacity="0.85" stroke="#222" stroke-width="1.1"/>
<line x1="534.80" x2="552.80" y1="466.45" y2="466.45" stroke="#9978C2" stroke-opacity="0.8" stroke-width="3.0"/>
<circle cx="543.80" cy="466.45" r="5.05" fill="#9978C2" fill-opacity="0.85" stroke="#222" stroke-width="1.1"/>
<text x="459.7" y="470.35" font-size="11.2" fill="#1a1a1a" color="#1a1a1a">ESCA</text>
<text x="505.8" y="473.45" font-size="14.8" text-anchor="middle" fill="#1a1a1a" color="#1a1a1a">***</text>
<text x="562.3" y="470.35" font-size="11.2" fill="#1a1a1a" color="#1a1a1a">READ</text>
<text x="609.4" y="473.45" font-size="14.8" text-anchor="middle" fill="#1a1a1a" color="#1a1a1a">***</text>
<line x1="432.30" x2="450.30" y1="488.50" y2="488.50" stroke="#52AE3B" stroke-opacity="0.8" stroke-width="3.0"/>
<circle cx="441.30" cy="488.50" r="5.05" fill="#52AE3B" fill-opacity="0.85" stroke="#222" stroke-width="1.1"/>
<line x1="534.80" x2="552.80" y1="488.50" y2="488.50" stroke="#A46EB5" stroke-opacity="0.8" stroke-width="3.0"/>
<circle cx="543.80" cy="488.50" r="5.05" fill="#A46EB5" fill-opacity="0.85" stroke="#222" stroke-width="1.1"/>
<text x="459.7" y="492.40" font-size="11.2" fill="#1a1a1a" color="#1a1a1a">GBM</text>
<text x="505.8" y="495.50" font-size="14.8" text-anchor="middle" fill="#1a1a1a" color="#1a1a1a">***</text>
<text x="562.3" y="492.40" font-size="11.2" fill="#1a1a1a" color="#1a1a1a">SARC</text>
<text x="609.4" y="495.50" font-size="14.8" text-anchor="middle" fill="#1a1a1a" color="#1a1a1a">**</text>
<line x1="432.30" x2="450.30" y1="510.55" y2="510.55" stroke="#24AB37" stroke-opacity="0.8" stroke-width="3.0"/>
<circle cx="441.30" cy="510.55" r="5.05" fill="#24AB37" fill-opacity="0.85" stroke="#222" stroke-width="1.1"/>
<line x1="534.80" x2="552.80" y1="510.55" y2="510.55" stroke="#B56AB3" stroke-opacity="0.8" stroke-width="3.0"/>
<circle cx="543.80" cy="510.55" r="5.05" fill="#B56AB3" fill-opacity="0.85" stroke="#222" stroke-width="1.1"/>
<text x="459.7" y="514.45" font-size="11.2" fill="#1a1a1a" color="#1a1a1a">HNSC</text>
<text x="505.8" y="517.55" font-size="14.8" text-anchor="middle" fill="#1a1a1a" color="#1a1a1a">***</text>
<text x="562.3" y="514.45" font-size="11.2" fill="#1a1a1a" color="#1a1a1a">STAD</text>
<text x="609.4" y="517.55" font-size="14.8" text-anchor="middle" fill="#1a1a1a" color="#1a1a1a">***</text>
<line x1="432.30" x2="450.30" y1="532.60" y2="532.60" stroke="#1BA844" stroke-opacity="0.8" stroke-width="3.0"/>
<circle cx="441.30" cy="532.60" r="5.05" fill="#1BA844" fill-opacity="0.85" stroke="#222" stroke-width="1.1"/>
<line x1="534.80" x2="552.80" y1="532.60" y2="532.60" stroke="#C863A8" stroke-opacity="0.8" stroke-width="3.0"/>
<circle cx="543.80" cy="532.60" r="5.05" fill="#C863A8" fill-opacity="0.85" stroke="#222" stroke-width="1.1"/>
<text x="459.7" y="536.50" font-size="11.2" fill="#1a1a1a" color="#1a1a1a">KICH</text>
<text x="505.8" y="539.60" font-size="14.8" text-anchor="middle" fill="#1a1a1a" color="#1a1a1a">**</text>
<text x="562.3" y="536.50" font-size="11.2" fill="#1a1a1a" color="#1a1a1a">TGCT</text>
<text x="609.4" y="539.60" font-size="14.8" text-anchor="middle" fill="#1a1a1a" color="#1a1a1a">*</text>
<line x1="432.30" x2="450.30" y1="554.65" y2="554.65" stroke="#1EA95A" stroke-opacity="0.8" stroke-width="3.0"/>
<circle cx="441.30" cy="554.65" r="5.05" fill="#1EA95A" fill-opacity="0.85" stroke="#222" stroke-width="1.1"/>
<line x1="534.80" x2="552.80" y1="554.65" y2="554.65" stroke="#D85BA2" stroke-opacity="0.8" stroke-width="3.0"/>
<circle cx="543.80" cy="554.65" r="5.05" fill="#D85BA2" fill-opacity="0.85" stroke="#222" stroke-width="1.1"/>
<text x="459.7" y="558.55" font-size="11.2" fill="#1a1a1a" color="#1a1a1a">KIRC</text>
<text x="505.8" y="561.65" font-size="14.8" text-anchor="middle" fill="#1a1a1a" color="#1a1a1a">***</text>
<text x="562.3" y="558.55" font-size="11.2" fill="#1a1a1a" color="#1a1a1a">THCA</text>
<text x="609.4" y="561.65" font-size="14.8" text-anchor="middle" fill="#1a1a1a" color="#1a1a1a">***</text>
<line x1="432.30" x2="450.30" y1="576.70" y2="576.70" stroke="#24B078" stroke-opacity="0.8" stroke-width="3.0"/>
<circle cx="441.30" cy="576.70" r="5.05" fill="#24B078" fill-opacity="0.85" stroke="#222" stroke-width="1.1"/>
<line x1="534.80" x2="552.80" y1="576.70" y2="576.70" stroke="#DF529B" stroke-opacity="0.8" stroke-width="3.0"/>
<circle cx="543.80" cy="576.70" r="5.05" fill="#DF529B" fill-opacity="0.85" stroke="#222" stroke-width="1.1"/>
<text x="459.7" y="580.60" font-size="11.2" fill="#1a1a1a" color="#1a1a1a">KIRP</text>
<text x="505.8" y="583.70" font-size="14.8" text-anchor="middle" fill="#1a1a1a" color="#1a1a1a">***</text>
<text x="562.3" y="580.60" font-size="11.2" fill="#1a1a1a" color="#1a1a1a">THYM</text>
<text x="609.4" y="583.70" font-size="14.8" text-anchor="middle" fill="#1a1a1a" color="#1a1a1a">**</text>
<line x1="432.30" x2="450.30" y1="598.75" y2="598.75" stroke="#1AAE8F" stroke-opacity="0.8" stroke-width="3.0"/>
<circle cx="441.30" cy="598.75" r="5.05" fill="#1AAE8F" fill-opacity="0.85" stroke="#222" stroke-width="1.1"/>
<line x1="534.80" x2="552.80" y1="598.75" y2="598.75" stroke="#E96099" stroke-opacity="0.8" stroke-width="3.0"/>
<circle cx="543.80" cy="598.75" r="5.05" fill="#E96099" fill-opacity="0.85" stroke="#222" stroke-width="1.1"/>
<text x="459.7" y="602.65" font-size="11.2" fill="#1a1a1a" color="#1a1a1a">LGG</text>
<text x="505.8" y="605.75" font-size="14.8" text-anchor="middle" fill="#1a1a1a" color="#1a1a1a">***</text>
<text x="562.3" y="602.65" font-size="11.2" fill="#1a1a1a" color="#1a1a1a">UCEC</text>
<text x="609.4" y="605.75" font-size="14.8" text-anchor="middle" fill="#1a1a1a" color="#1a1a1a">***</text>
<line x1="432.30" x2="450.30" y1="620.80" y2="620.80" stroke="#1BABAB" stroke-opacity="0.8" stroke-width="3.0"/>
<circle cx="441.30" cy="620.80" r="5.05" fill="#1BABAB" fill-opacity="0.85" stroke="#222" stroke-width="1.1"/>
<line x1="534.80" x2="552.80" y1="620.80" y2="620.80" stroke="#EB607C" stroke-opacity="0.8" stroke-width="3.0"/>
<circle cx="543.80" cy="620.80" r="5.05" fill="#EB607C" fill-opacity="0.85" stroke="#222" stroke-width="1.1"/>
<text x="459.7" y="624.70" font-size="11.2" fill="#1a1a1a" color="#1a1a1a">LIHC</text>
<text x="505.8" y="627.80" font-size="14.8" text-anchor="middle" fill="#1a1a1a" color="#1a1a1a">***</text>
<text x="562.3" y="624.70" font-size="11.2" fill="#1a1a1a" color="#1a1a1a">UCS</text>
<text x="609.4" y="627.80" font-size="14.8" text-anchor="middle" fill="#1a1a1a" color="#1a1a1a">*</text>
</svg>
</body></html>
